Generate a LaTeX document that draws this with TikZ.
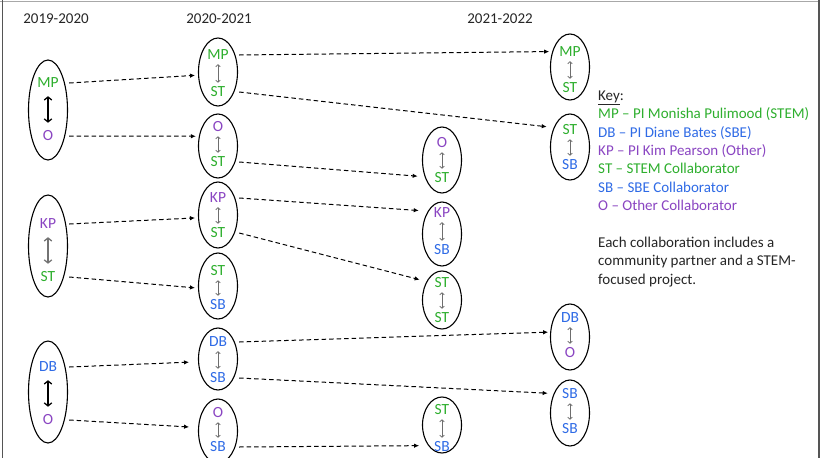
\documentclass[tikz,border=0pt]{standalone}
\usepackage{fontspec}
\setmainfont{Carlito}
\usetikzlibrary{shapes.geometric,arrows.meta}
\definecolor{cgreen}{HTML}{2EAF2E}
\definecolor{cblue}{HTML}{2F6BE6}
\definecolor{cpurple}{HTML}{8A45C2}
\definecolor{frameA}{HTML}{A8A8A8}
\definecolor{frameB}{HTML}{555555}
\definecolor{inarrow}{HTML}{6E6E6E}
\tikzset{
  ell/.style={ellipse,draw=black,line width=1.1pt,minimum width=39pt,inner sep=0pt},
  lab/.style={font=\fontsize{15.5}{18}\selectfont,minimum width=42pt,inner sep=0pt},
  conn/.style={dashed,dash pattern=on 4.5pt off 3pt,line width=1pt,-{Latex[length=5pt,width=4.5pt]}},
  thinar/.style={draw=inarrow,line width=0.8pt,{Straight Barb[length=2pt,width=4.5pt,line width=0.8pt]}-{Straight Barb[length=2pt,width=4.5pt,line width=0.8pt]},shorten <=4pt,shorten >=4pt},
  bigar/.style={line width=1.5pt,{Straight Barb[length=3pt,width=7.5pt,line width=1.3pt]}-{Straight Barb[length=3pt,width=7.5pt,line width=1.3pt]},shorten <=8pt,shorten >=8pt},
  hdr/.style={font=\fontsize{15}{18}\selectfont,text=black!85,inner sep=0pt},
  keyline/.style={font=\fontsize{15}{18}\selectfont,inner sep=0pt,anchor=base west},
  G/.style={text=cgreen},B/.style={text=cblue},P/.style={text=cpurple}
}
\begin{document}
\begin{tikzpicture}[x=1pt,y=-1pt]
\useasboundingbox (0,0) rectangle (825,458);
\fill[white] (0,0) rectangle (825,458);
% frame
\draw[frameA,line width=1.2pt] (0,1.5) -- (819,1.5);
\draw[frameB,line width=1.2pt] (819,0) -- (819,458);
\draw[frameB,line width=1pt] (2.8,0) -- (2.8,458);

% headers
\node[hdr] (h1) at (56,19) {2019-2020};
\node[hdr] (h2) at (219,19) {2020-2021};
\node[hdr] (h3) at (500,19) {2021-2022};

% column 1
\node[ell,minimum height=100pt] (A1) at (48,110) {};
\node[lab,G] (A1t) at (48,83) {MP};
\node[lab,P] (A1b) at (48,136) {O};
\node[ell,minimum height=102pt] (A2) at (48,246) {};
\node[lab,P] (A2t) at (48,224) {KP};
\node[lab,G] (A2b) at (48,277) {ST};
\node[ell,minimum height=102pt] (A3) at (48,392) {};
\node[lab,B] (A3t) at (48,367) {DB};
\node[lab,P] (A3b) at (48,420) {O};
\draw[bigar,black] (A1t.south) -- (A1b.north);
\draw[bigar,black!55] (A2t.south) -- (A2b.north);
\draw[bigar,black] (A3t.south) -- (A3b.north);

% column 2
\node[ell,minimum height=68pt] (B1) at (218,72) {};
\node[lab,G] (B1t) at (218,55) {MP};
\node[lab,G] (B1b) at (218,92) {ST};
\node[ell,minimum height=64pt] (B2) at (218,146) {};
\node[lab,P] (B2t) at (218,127) {O};
\node[lab,G] (B2b) at (218,162) {ST};
\node[ell,minimum height=66pt] (B3) at (218,215) {};
\node[lab,P] (B3t) at (218,198) {KP};
\node[lab,G] (B3b) at (218,233) {ST};
\node[ell,minimum height=66pt] (B4) at (218,286) {};
\node[lab,G] (B4t) at (218,271) {ST};
\node[lab,B] (B4b) at (218,305) {SB};
\node[ell,minimum height=62pt] (B5) at (218,359) {};
\node[lab,B] (B5t) at (218,342) {DB};
\node[lab,B] (B5b) at (218,378) {SB};
\node[ell,minimum height=64pt] (B6) at (218,431) {};
\node[lab,P] (B6t) at (218,413) {O};
\node[lab,B] (B6b) at (218,447) {SB};

% column 3
\node[ell,minimum height=66pt] (C1) at (442,160) {};
\node[lab,P] (C1t) at (442,143) {O};
\node[lab,G] (C1b) at (442,178) {ST};
\node[ell,minimum height=64pt] (C2) at (442,234) {};
\node[lab,P] (C2t) at (442,213) {KP};
\node[lab,B] (C2b) at (442,250) {SB};
\node[ell,minimum height=58pt] (C3) at (442,300) {};
\node[lab,G] (C3t) at (442,283) {ST};
\node[lab,G] (C3b) at (442,318) {ST};
\node[ell,minimum height=56pt] (C4) at (442,425) {};
\node[lab,G] (C4t) at (442,410) {ST};
\node[lab,B] (C4b) at (442,447) {SB};

% column 4
\node[ell,minimum height=66pt] (D1) at (570,67) {};
\node[lab,G] (D1t) at (570,52) {MP};
\node[lab,G] (D1b) at (570,88) {ST};
\node[ell,minimum height=66pt] (D2) at (570,147) {};
\node[lab,G] (D2t) at (570,130) {ST};
\node[lab,B] (D2b) at (570,165) {SB};
\node[ell,minimum height=66pt] (D3) at (570,337) {};
\node[lab,B] (D3t) at (570,318) {DB};
\node[lab,P] (D3b) at (570,353) {O};
\node[ell,minimum height=66pt] (D4) at (570,413) {};
\node[lab,B] (D4t) at (570,394) {SB};
\node[lab,B] (D4b) at (570,429) {SB};

% inner thin arrows
\foreach \n in {B1,B2,B3,B4,B5,B6,C1,C2,C3,C4,D1,D2,D3,D4}{
  \draw[thinar] (\n t.south) -- (\n b.north);
}

% connectors
\draw[conn,shorten >=3pt] (A1t.east) -- (B1.189);
\draw[conn,shorten >=3pt] (A1b.east) -- (B2.153);
\draw[conn,shorten >=3pt] (A2t.east) -- (B3.188);
\draw[conn,shorten >=3pt] (A2b.east) -- (B4.186);
\draw[conn,shorten >=9pt] (A3t.east) -- (B5.188);
\draw[conn,shorten >=9pt] (A3b.east) -- (B6.170);
\draw[conn,shorten >=3pt] (B1t.east) -- (D1.139);
\draw[conn,shorten >=7pt] (B1b.east) -- (D2.130);
\draw[conn,shorten >=7pt] (B2b.east) -- (C1.224);
\draw[conn,shorten >=9pt] (B3t.east) -- (C2.122);
\draw[conn,shorten >=7pt] (B3b.east) -- (C3.130);
\draw[conn,shorten >=2pt] (B5t.east) -- (D3.166);
\draw[conn,shorten >=6pt] (B5b.east) -- (D4.130);
\draw[conn,shorten >=9pt] (B6b.east) -- (C4.236);

% key
\node[keyline,text=black!85] (k0) at (598,100) {\underline{Key}:};
\node[keyline,G] (k1) at (598,118) {MP – PI Monisha Pulimood (STEM)};
\node[keyline,B] (k2) at (598,137) {DB – PI Diane Bates (SBE)};
\node[keyline,P] (k3) at (598,155) {KP – PI Kim Pearson (Other)};
\node[keyline,G] (k4) at (598,173) {ST – STEM Collaborator};
\node[keyline,B] (k5) at (598,192) {SB – SBE Collaborator};
\node[keyline,P] (k6) at (598,210) {O – Other Collaborator};
\node[keyline,text=black!85] (k7) at (598,247) {Each collaboration includes a};
\node[keyline,text=black!85] (k8) at (598,265) {community partner and a STEM-};
\node[keyline,text=black!85] (k9) at (598,284) {focused project.};
\end{tikzpicture}
\end{document}
